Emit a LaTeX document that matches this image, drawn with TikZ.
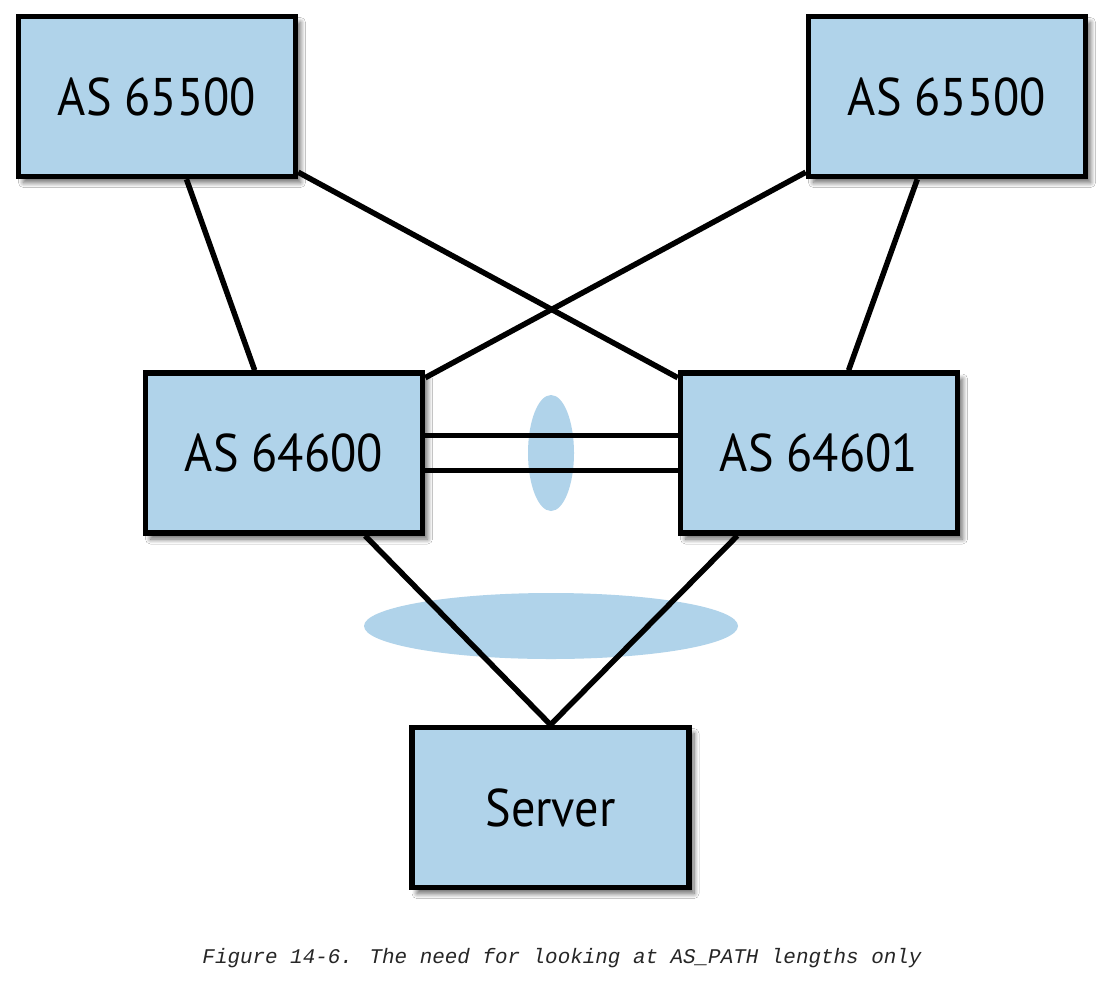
\documentclass[tikz,border=0pt]{standalone}
\usepackage{fontspec}
\setmainfont{PT Sans}[FakeStretch=0.91]
\newfontfamily\capfont{Liberation Mono}
\usetikzlibrary{shapes.geometric,shadows.blur,calc}
\definecolor{boxblue}{HTML}{B0D3EA}
\begin{document}
\begin{tikzpicture}[x=1pt,y=-1pt,
  asbox/.style={draw=black, line width=5.5pt, fill=boxblue, minimum width=277pt, minimum height=160pt, inner sep=0pt,
    font=\fontsize{53}{60}\selectfont,
    blur shadow={shadow xshift=5pt, shadow yshift=-6pt, shadow blur radius=5pt, shadow blur steps=10, shadow opacity=60}},
  link/.style={draw=black, line width=5.5pt},
  blob/.style={ellipse, fill=boxblue, draw=none, inner sep=0pt}]
\path[use as bounding box, fill=white] (0,0) rectangle (1107,980);
% ellipses (behind links)
\node[blob, minimum width=46pt, minimum height=116pt] (e1) at (551,453) {};
\node[blob, minimum width=374pt, minimum height=66pt] (e2) at (551,626) {};
% boxes
\node[asbox] (tl) at (157,96.5) {AS 65500};
\node[asbox] (tr) at (947,96.5) {AS 65500};
\node[asbox] (ml) at (284,453) {AS 64600};
\node[asbox] (mr) at (819,453) {AS 64601};
\node[asbox] (srv) at (550.5,807.5) {Server};
% links
\draw[link] (tl) -- (ml);
\draw[link] (tl) -- (mr);
\draw[link] (tr) -- (ml);
\draw[link] (tr) -- (mr);
\draw[link] ([yshift=17.5pt]ml.east) -- ([yshift=17.5pt]mr.west);
\draw[link] ([yshift=-17.5pt]ml.east) -- ([yshift=-17.5pt]mr.west);
\draw[link] (ml) -- (srv.north);
\draw[link] (mr) -- (srv.north);
% caption
\node[font=\capfont\itshape\fontsize{20.9}{23}\selectfont, text=black!85, inner sep=0pt] (cap) at (562,958) {Figure 14-6. The need for looking at AS\_PATH lengths only};
\end{tikzpicture}
\end{document}
